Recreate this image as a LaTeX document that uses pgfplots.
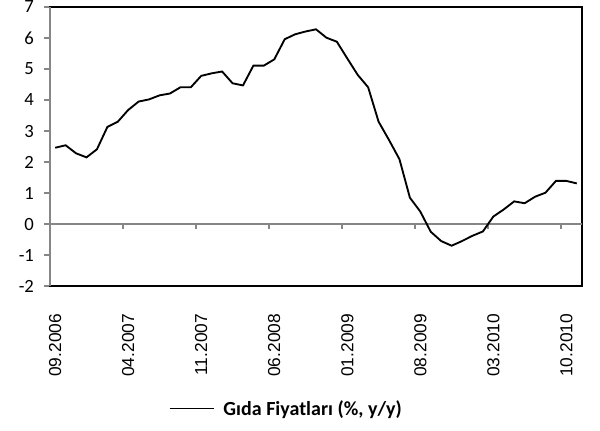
\documentclass[border=0pt]{standalone}
\usepackage{pgfplots}
\pgfplotsset{compat=1.18}
\usepackage{fontspec}
\setmainfont{Carlito}
\newfontfamily\arialfont{Liberation Sans}
\definecolor{axgray}{HTML}{868686}
\begin{document}
\begin{tikzpicture}
\useasboundingbox (-37.5pt,-108pt) rectangle (412.5pt,214.5pt);
\begin{axis}[
  at={(0pt,0pt)}, anchor=south west,
  scale only axis, width=399pt, height=209.25pt,
  xmin=-0.5, xmax=50.5, ymin=-2, ymax=7,
  axis line style={black, line width=1pt},
  xtick={0,7,14,21,28,35,42,49},
  xticklabels={09.2006,04.2007,11.2007,06.2008,01.2009,08.2009,03.2010,10.2010},
  x tick label style={rotate=90, anchor=east, font=\arialfont\fontsize{13}{15}\selectfont},
  xticklabel shift=13pt,
  xtick style={draw=none},
  ytick={-2,-1,0,1,2,3,4,5,6,7},
  y tick label style={font=\fontsize{14}{16}\selectfont},
  yticklabel shift=4pt,
  /pgf/number format/assume math mode=true,
  ytick pos=left, xtick pos=bottom,
  tick align=outside,
  ytick style={draw=axgray, line width=1pt},
  major tick length=4.5pt,
  legend style={at={(0.445,-0.44)}, anchor=center, draw=none, fill=none,
    font=\bfseries\fontsize{15}{17}\selectfont,
    /tikz/every odd column/.append style={column sep=5pt}},
  legend image code/.code={\draw[#1, line width=0.8pt] (0pt,0pt) -- (33pt,0pt);},
  clip=false,
  after end axis/.code={\draw[axgray, line width=1.5pt] (rel axis cs:0,0) -- (rel axis cs:0,1);}
]
\draw[axgray, line width=1.5pt] (axis cs:-0.5,0) -- (axis cs:50.5,0);
\pgfplotsinvokeforeach{6.5,13.5,20.5,27.5,34.5,41.5,48.5}{
  \draw[axgray, line width=1pt] (axis cs:#1,0) -- ([yshift=-4pt]axis cs:#1,0);
}
\addplot[black, line width=1.4pt, mark=none] table {
x y
0 2.46
1 2.54
2 2.28
3 2.15
4 2.41
5 3.13
6 3.30
7 3.68
8 3.95
9 4.02
10 4.15
11 4.21
12 4.41
13 4.41
14 4.78
15 4.86
16 4.92
17 4.54
18 4.47
19 5.11
20 5.11
21 5.31
22 5.96
23 6.12
24 6.21
25 6.28
26 6.01
27 5.88
28 5.34
29 4.81
30 4.41
31 3.30
32 2.71
33 2.09
34 0.85
35 0.40
36 -0.25
37 -0.55
38 -0.70
39 -0.55
40 -0.38
41 -0.24
42 0.24
43 0.47
44 0.73
45 0.67
46 0.88
47 1.01
48 1.39
49 1.39
50 1.31
};
\addlegendentry{Gıda Fiyatları (\%, y/y)}
\end{axis}
\end{tikzpicture}
\end{document}
